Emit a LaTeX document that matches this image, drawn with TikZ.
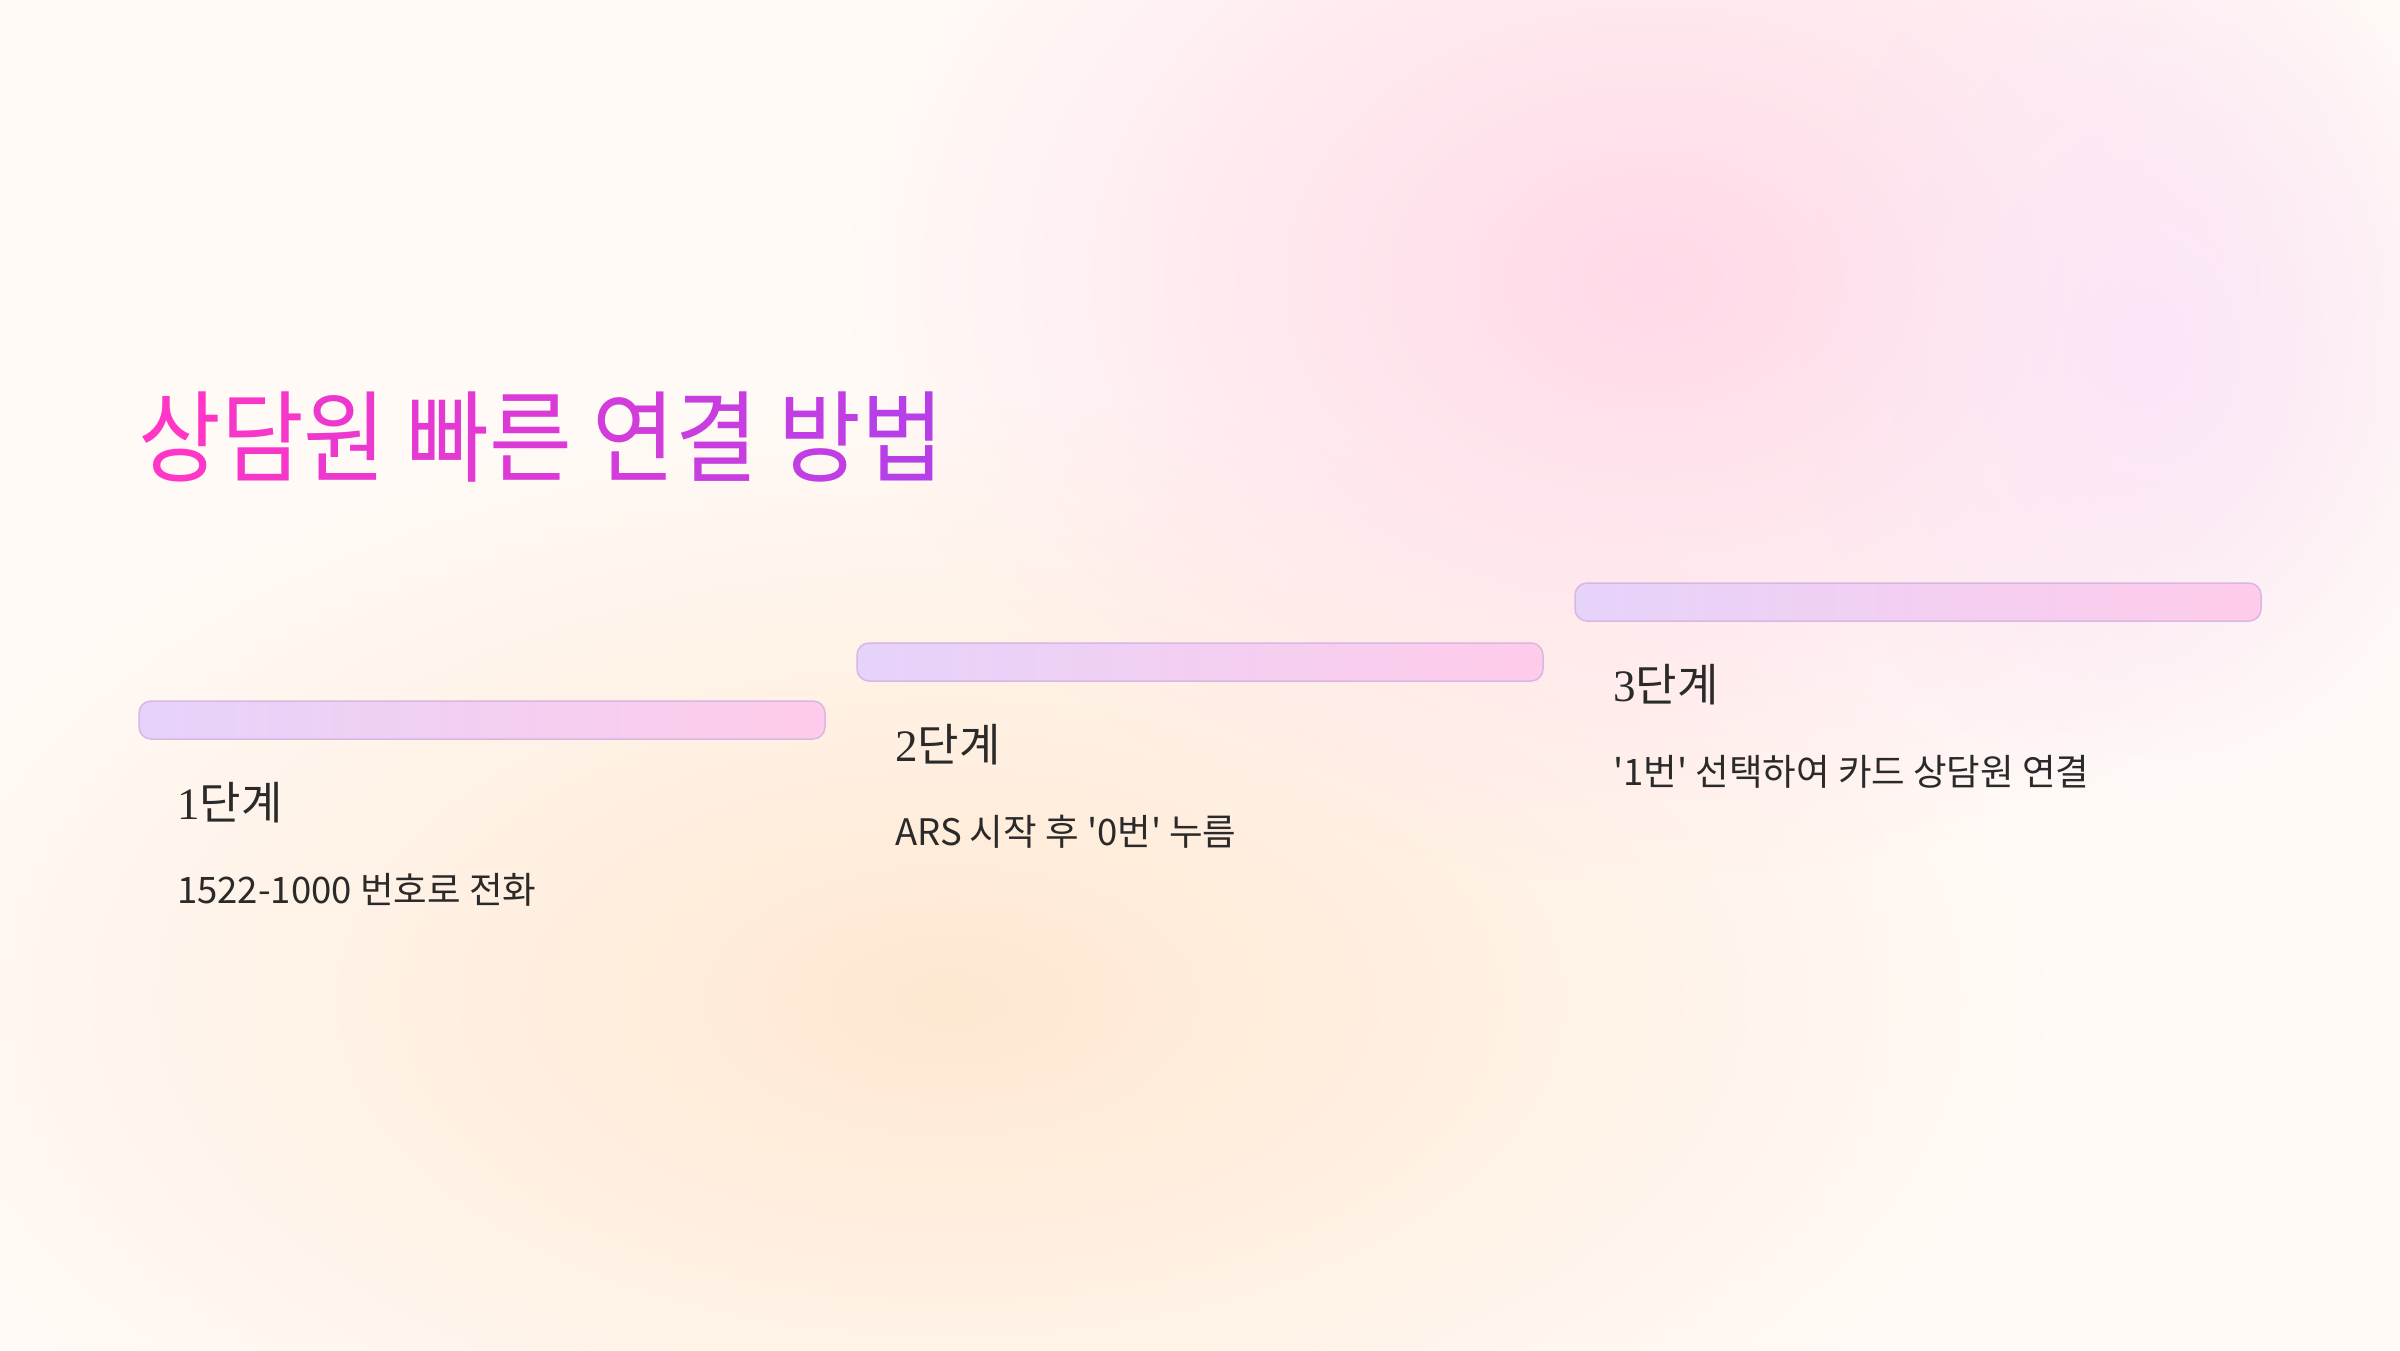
\documentclass[tikz,border=0pt]{standalone}
\usepackage{fontspec}
\newfontfamily\krfont[Ligatures=TeXOff]{Noto Sans CJK KR}
\newfontfamily\krnarrow[Ligatures=TeXOff,FakeStretch=0.9]{Noto Sans CJK KR}
\newfontfamily\numfont{Liberation Serif}
\usetikzlibrary{positioning,fadings}

\definecolor{bgbase}{HTML}{FFFAF6}
\definecolor{blobpeach}{HTML}{FFE8D2}
\definecolor{blobpink}{HTML}{FFD9E8}
\definecolor{bloblilac}{HTML}{FBE6F8}
\definecolor{ttlL}{HTML}{FF36C6}
\definecolor{ttlR}{HTML}{B63FE8}
\definecolor{barL}{HTML}{E6D3FA}
\definecolor{barR}{HTML}{FFCBEA}
\definecolor{barline}{HTML}{DAB6E2}
\definecolor{ink}{HTML}{2A2A2A}

\tikzfading[name=blobfade, inner color=transparent!0, outer color=transparent!100]

% one title syllable, tinted along the gradient
\newcommand{\tsyl}[2]{\textcolor{ttlL!#1!ttlR}{#2}}

\tikzset{
  stepbar/.style={draw=barline, line width=1.5pt, rounded corners=12pt,
    left color=barL, right color=barR, minimum width=686pt,
    minimum height=38pt, inner sep=0pt, outer sep=0pt, anchor=north west},
  stephead/.style={anchor=base west, inner sep=0pt, text=ink,
    font=\krfont\fontsize{45}{54}\selectfont},
  steptext/.style={anchor=base west, inner sep=0pt, text=ink,
    font=\krfont\fontsize{36.5}{44}\selectfont},
  bigtitle/.style={anchor=base west, inner sep=0pt,
    font=\krnarrow\fontsize{100}{120}\selectfont}
}

\begin{document}
\begin{tikzpicture}[x=1pt,y=-1pt]
  \useasboundingbox (0,0) rectangle (2400,1350);
  \clip (0,0) rectangle (2400,1350);

  % soft background
  \fill[bgbase] (0,0) rectangle (2400,1350);
  \fill[blobpeach, path fading=blobfade] (950,1000) ellipse (1100 and 600);
  \fill[blobpink, path fading=blobfade] (1650,280) ellipse (800 and 600);
  \fill[bloblilac, path fading=blobfade] (2150,350) ellipse (350 and 450);

  % title
  \node[bigtitle] (title) at (138,474) {%
    \tsyl{100}{상}\tsyl{88}{담}\tsyl{75}{원} \tsyl{63}{빠}\tsyl{50}{른} %
    \tsyl{38}{연}\tsyl{25}{결} \tsyl{13}{방}\tsyl{0}{법}};

  % steps
  \foreach \n/\bx/\by/\desc in {1/139/701/{1522-1000 번호로 전화},
      2/857/643/{ARS 시작 후 '0번' 누름},
      3/1575/583/{'1번' 선택하여 카드 상담원 연결}}{
    \node[stepbar] (bar\n) at (\bx,\by) {};
    \node[stephead] (head\n) at ([xshift=38pt,yshift=-118pt]bar\n.north west) {{\numfont\n}단계};
    \node[steptext] (text\n) at ([xshift=38pt,yshift=-202pt]bar\n.north west) {\desc};
  }

\end{tikzpicture}
\end{document}
